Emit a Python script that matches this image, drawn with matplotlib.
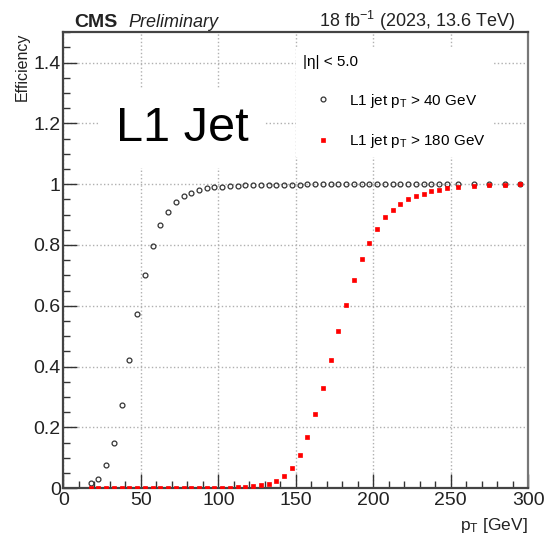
import matplotlib
matplotlib.use("Agg")
import matplotlib.pyplot as plt
from matplotlib.ticker import MultipleLocator, FuncFormatter

plt.rcParams['font.family'] = ['Liberation Sans', 'DejaVu Sans']
plt.rcParams['mathtext.fontset'] = 'custom'
plt.rcParams['mathtext.rm'] = 'Liberation Sans'
plt.rcParams['mathtext.it'] = 'Liberation Sans:italic'

# bin centres (GeV): 5 GeV bins up to 250, then 10 GeV bins
pt_bins = [17.5, 22.5, 27.5, 32.5, 37.5, 42.5, 47.5, 52.5, 57.5, 62.5,
           67.5, 72.5, 77.5, 82.5, 87.5, 92.5, 97.5, 102.5, 107.5, 112.5,
           117.5, 122.5, 127.5, 132.5, 137.5, 142.5, 147.5, 152.5, 157.5, 162.5,
           167.5, 172.5, 177.5, 182.5, 187.5, 192.5, 197.5, 202.5, 207.5, 212.5,
           217.5, 222.5, 227.5, 232.5, 237.5, 242.5, 247.5,
           255, 265, 275, 285, 295]

# L1 jet pT > 40 GeV
eff_40 = [0.016, 0.030, 0.076, 0.148, 0.272, 0.422, 0.572, 0.700, 0.797, 0.866,
          0.910, 0.940, 0.961, 0.972, 0.981, 0.987, 0.990, 0.992, 0.994, 0.995,
          0.996, 0.997, 0.997, 0.998, 0.998, 0.998, 0.998, 0.998, 0.999, 0.999,
          0.999, 0.999, 0.999, 0.999, 0.999, 0.999, 0.999, 0.999, 0.999, 0.999,
          0.999, 0.999, 0.999, 0.999, 0.999, 0.999, 0.999,
          1.0, 1.0, 1.0, 1.0, 1.0]

# L1 jet pT > 180 GeV
eff_180 = [0.0, 0.0, 0.0, 0.0, 0.0, 0.0, 0.0, 0.0, 0.0, 0.0,
           0.0, 0.0, 0.0, 0.0, 0.0, 0.0, 0.001, 0.001, 0.002, 0.003,
           0.004, 0.006, 0.009, 0.012, 0.022, 0.040, 0.067, 0.109, 0.168, 0.244,
           0.329, 0.422, 0.517, 0.602, 0.684, 0.755, 0.808, 0.854, 0.892, 0.915,
           0.934, 0.951, 0.961, 0.969, 0.977, 0.981, 0.987,
           0.992, 0.994, 0.997, 0.998, 0.999]

fig = plt.figure(figsize=(5.45, 5.37), dpi=100)
ax = fig.add_axes([0.1165, 0.091, 0.8525, 0.849])

ax.plot(pt_bins, eff_40, linestyle='none', marker='o', markersize=3.5,
        markerfacecolor='none', markeredgecolor='#333333', markeredgewidth=0.9,
        label=r'L1 jet p$_{\mathrm{T}}$ > 40 GeV', zorder=3)
ax.plot(pt_bins, eff_180, linestyle='none', marker='s', markersize=3.2,
        markerfacecolor='#ff0000', markeredgecolor='#ff0000', markeredgewidth=0.5,
        label=r'L1 jet p$_{\mathrm{T}}$ > 180 GeV', zorder=4)

ax.set_xlim(0, 300)
ax.set_ylim(0, 1.5)
ax.xaxis.set_major_locator(MultipleLocator(50))
ax.xaxis.set_minor_locator(MultipleLocator(10))
ax.yaxis.set_major_locator(MultipleLocator(0.2))
ax.yaxis.set_minor_locator(MultipleLocator(0.05))
ax.yaxis.set_major_formatter(FuncFormatter(lambda v, p: f'{v:g}'))

ax.grid(True, which='major', linestyle=':', color='#b0b0b0', linewidth=1.0)
ax.tick_params(which='both', direction='in', top=False, right=False,
               labelsize=14, colors='#333333', labelcolor='#222222')
ax.tick_params(axis='x', which='major', length=10, width=1.0, pad=3)
ax.tick_params(axis='x', which='minor', length=5, width=1.0)
ax.tick_params(axis='y', which='major', length=10, width=1.0, pad=2)
ax.tick_params(axis='y', which='minor', length=5, width=1.0)
for side in ['left', 'bottom', 'top', 'right']:
    ax.spines[side].set_linewidth(1.6)
    ax.spines[side].set_color('#444444')
ax.spines['right'].set_color('#777777')

ax.set_ylabel('Efficiency', fontsize=11.5, loc='top', labelpad=3, color='#222222')
ax.set_xlabel(r'p$_{\mathrm{T}}$ [GeV]', fontsize=12.5, loc='right', labelpad=5,
              color='#222222')

leg = ax.legend(loc='upper left', bbox_to_anchor=(0.50, 0.966),
                title='|η| < 5.0', title_fontsize=11, fontsize=11,
                alignment='left', frameon=True, fancybox=False,
                facecolor='white', edgecolor='none', framealpha=1.0,
                borderpad=0.45, labelspacing=1.5, handlelength=2.7,
                handletextpad=0.3, borderaxespad=0.0, markerscale=1.0)
leg.get_frame().set_linewidth(0)
leg.set_zorder(5)

ax.text(0.255, 0.789, 'L1 Jet', transform=ax.transAxes, fontsize=35,
        ha='center', va='center', color='black', zorder=5,
        bbox=dict(boxstyle='square,pad=0.35', facecolor='white', edgecolor='none'))

ax.text(0.023, 1.012, 'CMS', transform=ax.transAxes, fontsize=14,
        fontweight='bold', ha='left', va='baseline', color='#222222')
ax.text(0.14, 1.012, 'Preliminary', transform=ax.transAxes, fontsize=13,
        fontstyle='italic', ha='left', va='baseline', color='#222222')
ax.text(0.972, 1.012, r'18 fb$^{-1}$ (2023, 13.6 TeV)', transform=ax.transAxes,
        fontsize=13, ha='right', va='baseline', color='#222222')

fig.savefig('out.png', dpi=100)
